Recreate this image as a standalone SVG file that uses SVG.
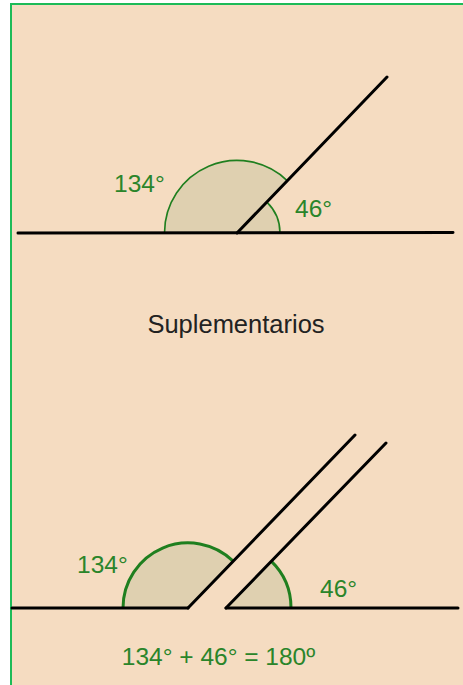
<svg xmlns="http://www.w3.org/2000/svg" width="463" height="685" viewBox="0 0 463 685">
<style>
.ln{stroke:#000;stroke-width:3;stroke-linecap:round;fill:none}
.sec{fill:#dfd0b0;stroke:none}
.arc{fill:none;stroke:#1f7f1f}
.thin{stroke-width:1.6}
.thick{stroke-width:3}
.lbl{font-family:"Liberation Sans",Arial,sans-serif;font-size:24.5px;fill:#2a852a}
.title{font-family:"Liberation Sans",Arial,sans-serif;font-size:25.5px;fill:#222}
</style>
<rect width="463" height="685" fill="#fff"/>
<rect x="11" y="4" width="462" height="700" fill="#f5dcc1" stroke="#1dbb58" stroke-width="2"/>
<g id="top-angle">
<path class="sec" d="M237,233 L287.4,180.8 A72.5,72.5 0 0 0 164.5,233 Z"/>
<path class="sec" d="M237,233 L280,233 A43,43 0 0 0 266.9,202.1 Z"/>
<path class="arc thin" d="M287.4,180.8 A72.5,72.5 0 0 0 164.5,233"/>
<path class="arc thin" d="M280,233 A43,43 0 0 0 266.9,202.1"/>
<line class="ln" x1="18" y1="233" x2="453" y2="232.5"/>
<line class="ln" x1="237" y1="233" x2="387" y2="77"/>
<text class="lbl" x="114" y="192">134°</text>
<text class="lbl" x="295" y="217">46°</text>
</g>
<g id="title">
<text class="title" x="236" y="333" text-anchor="middle">Suplementarios</text>
</g>
<g id="bottom-angles">
<path class="sec" d="M188,608 L233.2,561.2 A65,65 0 0 0 123,608 Z"/>
<path class="sec" d="M226,608 L291,608 A65,65 0 0 0 271.2,561.2 Z"/>
<path class="arc thick" d="M233.2,561.2 A65,65 0 0 0 123,608"/>
<path class="arc thick" d="M291,608 A65,65 0 0 0 271.2,561.2"/>
<line class="ln" x1="12" y1="608" x2="188" y2="608"/>
<line class="ln" x1="188" y1="608" x2="355" y2="435"/>
<line class="ln" x1="226" y1="608" x2="458" y2="608"/>
<line class="ln" x1="226" y1="608" x2="386" y2="443"/>
<text class="lbl" x="77" y="573">134°</text>
<text class="lbl" x="320" y="597">46°</text>
<text class="lbl" x="218.5" y="665" text-anchor="middle">134° + 46° = 180º</text>
</g>
</svg>
